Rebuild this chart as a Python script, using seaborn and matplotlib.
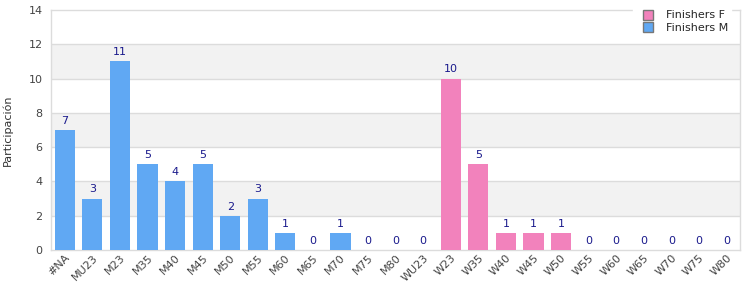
import pandas as pd
import matplotlib.pyplot as plt
import seaborn as sns
from matplotlib.lines import Line2D

categories = ['#NA', 'MU23', 'M23', 'M35', 'M40', 'M45', 'M50', 'M55', 'M60', 'M65',
              'M70', 'M75', 'M80', 'WU23', 'W23', 'W35', 'W40', 'W45', 'W50', 'W55',
              'W60', 'W65', 'W70', 'W75', 'W80']
values = [7, 3, 11, 5, 4, 5, 2, 3, 1, 0, 1, 0, 0, 0, 10, 5, 1, 1, 1, 0, 0, 0, 0, 0, 0]
series = ['Finishers M'] * 14 + ['Finishers F'] * 11

blue = '#60a8f3'
pink = '#f282bc'
label_col = '#1a1a8c'
grid_col = '#dcdcdc'

df = pd.DataFrame({'cat': categories, 'val': values, 'serie': series})

sns.set_style('white')
plt.rcParams['font.family'] = ['DejaVu Sans']

fig = plt.figure(figsize=(7.5, 3), dpi=100)
ax = fig.add_axes([0.068, 0.1667, 0.919, 0.80])

sns.barplot(data=df, x='cat', y='val', hue='serie', order=categories,
            hue_order=['Finishers M', 'Finishers F'],
            palette={'Finishers M': blue, 'Finishers F': pink},
            dodge=False, width=0.73, ax=ax, legend=False, saturation=1,
            linewidth=0, zorder=3)

# alternating bands
for lo in (2, 6, 10):
    ax.axhspan(lo, lo + 2, color='#f2f2f2', zorder=0, lw=0)
for y in range(2, 14, 2):
    ax.axhline(y, color=grid_col, lw=1, zorder=1)

ax.set_ylim(0, 14)
ax.set_xlim(-0.5, len(categories) - 0.5)
ax.set_yticks(range(0, 15, 2))
ax.tick_params(axis='y', labelsize=8, colors='#444444', length=0, pad=6)
ax.tick_params(axis='x', labelsize=8, colors='#444444', length=0, pad=2)
plt.setp(ax.get_xticklabels(), rotation=45, ha='right', rotation_mode='anchor')
ax.set_xlabel('')
ax.set_ylabel('Participación', fontsize=8, color='#333333')
ax.yaxis.set_label_coords(-0.055, 0.5)
for s in ax.spines.values():
    s.set_color(grid_col)
    s.set_linewidth(1)

for c in ax.containers:
    ax.bar_label(c, fontsize=8, color=label_col, padding=3)

handles = [Line2D([], [], marker='s', ls='', markersize=7, markerfacecolor=pink,
                  markeredgecolor='#777777', label='Finishers F'),
           Line2D([], [], marker='s', ls='', markersize=7, markerfacecolor=blue,
                  markeredgecolor='#777777', label='Finishers M')]
leg = ax.legend(handles=handles, loc='upper right', bbox_to_anchor=(0.995, 1.035),
                fontsize=8, frameon=True, facecolor='white', edgecolor='white',
                framealpha=1, borderpad=0.3, handletextpad=0.6, labelspacing=0.2,
                fancybox=False)
leg.set_zorder(10)

fig.savefig('out.png', dpi=100)
